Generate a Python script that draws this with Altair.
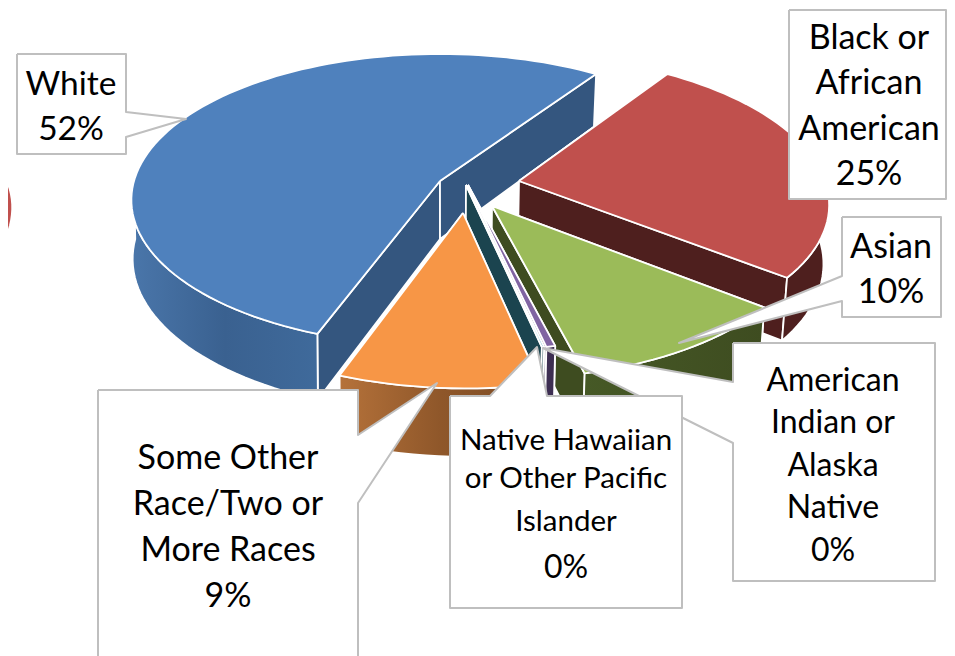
import math
import altair as alt
import pandas as pd

# ---- chart values
categories = ["Black or African American", "Asian", "American Indian or Alaska Native",
              "Native Hawaiian or Other Pacific Islander", "Some Other Race/Two or More Races", "White"]
shares = [25.2, 10.2, 0.4, 0.1, 8.7, 52.0]
START_ANGLE = 34.4

# ---- styling / layout
tops = ["#C0504D", "#9BBB59", "#8064A2", "#4BACC6", "#F79646", "#4F81BD"]
faces = ["#4E1F1E", "#3E4C20", "#3D2E52", "#1B444F", "#7A4A24", "#34567F"]
walls = [["#4E1F1E", "#4E1F1E"], ["#465926", "#3E4C20"], ["#3D2E52", "#3D2E52"], ["#1B444F", "#1B444F"],
         ["#B5723A", "#8F572A", "#7A4A24"], ["#4A76AA", "#3A6190", "#3F6A9B"]]
apexes = [(519, 181), (492, 206), (468, 185), (466, 185), (463, 213), (440, 181)]
paint_order = [5, 0, 1, 2, 3, 4]

W, H = 939, 648
CX, CY, RX, RY, K = 440, 181, 306, 143.5, 0.13
X_SCALE = alt.Scale(domain=[8, 8 + W], range=[0, W])
Y_SCALE = alt.Scale(domain=[8, 8 + H], range=[0, H])


def project(u, v):
    w = 1 - K * v
    return CX + RX * u / w, CY + RY * v / w


def disc_offset(ax, ay):
    dx, dy = ax - CX, ay - CY
    v = dy / (RY + K * dy)
    return dx * (1 - K * v) / RX, v


def rim(apex, th):
    u0, v0 = disc_offset(*apex)
    t = math.radians(th)
    return project(u0 + math.sin(t), v0 - math.cos(t))


def drop(p):
    lean = 0.015 if p[0] > 450 else 0.004
    return p[0] - (p[0] - 450) * lean, p[1] + 58 + 0.05 * (p[1] - 181)


def poly(points, fill, stroke="white", width=1.8):
    pts = list(points) + [points[0]]
    df = pd.DataFrame({"x": [p[0] for p in pts], "y": [p[1] for p in pts], "i": range(len(pts))})
    return alt.Chart(df).mark_line(fill=fill, stroke=stroke, strokeWidth=width, strokeJoin="round").encode(
        x=alt.X("x:Q", scale=X_SCALE, axis=None),
        y=alt.Y("y:Q", scale=Y_SCALE, axis=None),
        order=alt.Order("i:Q"),
    )


def gradient(cols):
    if len(cols) == 1 or len(set(cols)) == 1:
        return cols[0]
    return alt.Gradient(gradient="linear", x1=0, x2=1, y1=0, y2=0,
                        stops=[alt.GradientStop(color=c, offset=i / (len(cols) - 1)) for i, c in enumerate(cols)])


def arc_angles(a, b):
    n = max(2, int(abs(b - a) / 2))
    return [a + (b - a) * i / n for i in range(n + 1)]


def slice_layers(apex, a, b, top, face, wall):
    out = []
    for th in (a, b):
        p = rim(apex, th)
        out.append(poly([apex, p, drop(p), drop(apex)], face))
    # only the front half of the outer wall can be seen
    lo, hi = max(a, 90), min(b, 270)
    if hi > lo:
        ring = [rim(apex, t) for t in arc_angles(lo, hi)]
        out.append(poly(ring + [drop(p) for p in reversed(ring)], gradient(wall)))
    out.append(poly([apex] + [rim(apex, t) for t in arc_angles(a, b)], top))
    return out


total = sum(shares)
bounds = [START_ANGLE]
for s in shares:
    bounds.append(bounds[-1] + s / total * 360)

layers = []
# neighbouring pie just entering at the left edge
layers += slice_layers((-314, 235), 40, 127, tops[0], faces[0], walls[0])
for idx in paint_order:
    layers += slice_layers(apexes[idx], bounds[idx], bounds[idx + 1], tops[idx], faces[idx], walls[idx])

# ---- data labels
callouts = [
    [(17, 54), (126, 54), (126, 112), (186, 119), (126, 137), (126, 154), (17, 154)],
    [(789, 10), (946, 10), (946, 199), (789, 199)],
    [(842, 217), (941, 217), (941, 317), (842, 317), (842, 301), (679, 343), (842, 276)],
    [(733, 343), (935, 343), (935, 581), (733, 581), (733, 443), (543, 348), (733, 382)],
    [(450, 396), (490, 396), (537, 347), (547, 396), (682, 396), (682, 608), (450, 608)],
    [(98, 390), (358, 390), (358, 435), (437, 383), (358, 503), (358, 700), (98, 700)],
]
for c in callouts:
    layers.append(poly(c, "white", "#BFBFBF", 2))

label_lines = ["White", "52%", "Black or", "African", "American", "25%", "Asian", "10%",
               "American", "Indian or", "Alaska", "Native", "0%",
               "Native Hawaiian", "or Other Pacific", "Islander", "0%",
               "Some Other", "Race/Two or", "More Races", "9%"]
label_x = [71, 71, 869, 869, 869, 869, 891, 891,
           833, 833, 833, 833, 833,
           566, 566, 566, 566,
           228, 228, 228, 228]
label_y = [85, 130, 39, 84, 130, 175, 248, 293,
           381, 423, 466, 508, 551,
           441, 479, 522, 568,
           459, 505, 551, 597]
label_size = [33.5, 33.5, 34, 34, 34, 34, 34, 34,
              32, 32, 32, 32, 32,
              29.5, 29.5, 29.5, 32,
              34, 34, 34, 34]
labels = pd.DataFrame({"t": label_lines, "x": label_x, "y": label_y, "s": label_size})
layers.append(
    alt.Chart(labels).mark_text(font="Lato", color="#000000", baseline="middle", align="center").encode(
        x=alt.X("x:Q", scale=X_SCALE, axis=None),
        y=alt.Y("y:Q", scale=Y_SCALE, axis=None),
        text="t:N",
        size=alt.Size("s:Q", scale=None),
    )
)

chart = alt.layer(*layers).properties(
    width=W, height=H, padding=0,
    autosize=alt.AutoSizeParams(type="none"),
).configure_view(stroke=None)

chart.save("out.html", embed_options={"renderer": "svg", "actions": False})
